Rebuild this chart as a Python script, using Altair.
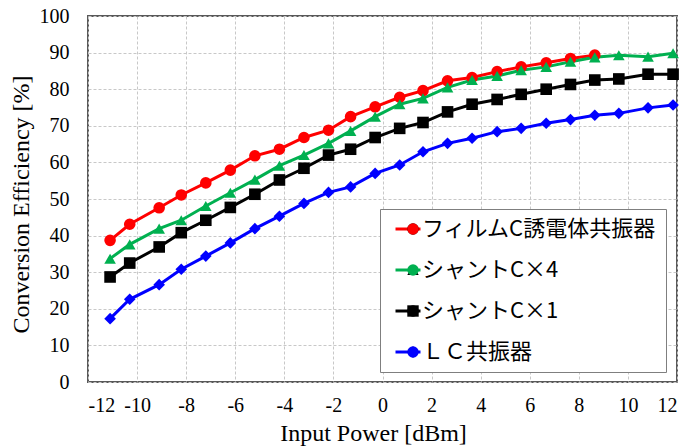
import altair as alt
import pandas as pd

# x positions (dBm)
x_all = [-11.1, -10.3, -9.1, -8.2, -7.2, -6.2, -5.2, -4.2, -3.2, -2.2, -1.3, -0.3,
         0.7, 1.65, 2.65, 3.65, 4.67, 5.65, 6.67, 7.66, 8.65, 9.63, 10.82, 11.84]

red_y = [38.7, 43.1, 47.6, 51.1, 54.4, 57.9, 61.8, 63.6, 66.8, 68.8, 72.5, 75.2,
         77.8, 79.6, 82.3, 83.2, 84.8, 86.1, 87.2, 88.4, 89.3]
green_y = [33.7, 37.6, 41.9, 44.2, 48.1, 51.7, 55.3, 59.1, 62.0, 65.2, 68.6, 72.5,
           75.9, 77.5, 80.5, 82.5, 83.6, 85.2, 86.1, 87.5, 88.7, 89.3, 88.9, 89.8]
black_y = [28.7, 32.5, 36.9, 40.8, 44.2, 47.7, 51.3, 55.2, 58.4, 62.0, 63.6, 66.8,
           69.3, 70.9, 73.8, 75.9, 77.2, 78.6, 80.0, 81.3, 82.5, 82.8, 84.1, 84.1]
blue_y = [17.3, 22.6, 26.6, 30.8, 34.4, 38.0, 41.9, 45.3, 48.8, 51.8, 53.3, 57.0,
          59.3, 62.9, 65.2, 66.6, 68.4, 69.3, 70.7, 71.7, 72.9, 73.4, 74.9, 75.7]

series_names = ["フィルムC誘電体共振器", "シャントC×4", "シャントC×1", "ＬＣ共振器"]
series_colors = ["#FF0000", "#00B050", "#000000", "#0000FF"]
series_shapes = ["circle", "triangle-up", "square", "diamond"]
series_widths = [3, 3, 2, 3]
series_values = [red_y, green_y, black_y, blue_y]

rows = []
for name, ys in zip(series_names, series_values):
    for i, v in enumerate(ys):
        rows.append({"x": x_all[i], "y": v, "series": name, "series_pt": name, "order": i})
df = pd.DataFrame(rows)

label_font = "Liberation Serif"
cjk_font = "Noto Sans CJK JP"

x_enc = alt.X("x:Q", scale=alt.Scale(domain=[-12, 12], nice=False),
              axis=alt.Axis(values=list(range(-12, 13, 2)), title="Input Power [dBm]",
                            labelExpr="'' + datum.value",
                            labelFont=label_font, labelFontSize=20, labelColor="#000000",
                            titleFont=label_font, titleFontSize=24,
                            titleX=285, titleY=58, titleBaseline="alphabetic",
                            labelPadding=13))
y_enc = alt.Y("y:Q", scale=alt.Scale(domain=[0, 100], nice=False),
              axis=alt.Axis(values=list(range(0, 101, 10)), title="Conversion Efficiency [%]",
                            labelExpr="'' + datum.value",
                            labelFont=label_font, labelFontSize=20, labelColor="#000000",
                            titleFont=label_font, titleFontSize=24,
                            titleX=-55, titleY=188, labelPadding=19))

leg_common = dict(orient="none", legendY=193, title=None,
                  labelFont=cjk_font, labelFontSize=22, rowPadding=19, clipHeight=22,
                  padding=9, symbolOffset=5, labelLimit=400)

lines = alt.Chart(df).mark_line().encode(
    x=x_enc, y=y_enc,
    order="order:Q",
    strokeWidth=alt.StrokeWidth("series:N", sort=series_names,
                                scale=alt.Scale(domain=series_names, range=series_widths),
                                legend=None),
    color=alt.Color("series:N", sort=series_names,
                    scale=alt.Scale(domain=series_names, range=series_colors),
                    legend=alt.Legend(legendX=292, symbolType="stroke",
                                      symbolSize=625, symbolStrokeWidth=3,
                                      labelColor="#000000", labelOffset=0,
                                      strokeColor="#7F7F7F", fillColor="#FFFFFF",
                                      **leg_common)),
)

pt_legend = alt.Legend(legendX=300, symbolSize=130, labelExpr="''",
                       labelOffset=0, symbolStrokeWidth=0, **leg_common)

points = alt.Chart(df).mark_point(filled=True, size=135, opacity=1, strokeWidth=0).encode(
    x=x_enc, y=y_enc,
    fill=alt.Fill("series_pt:N", sort=series_names,
                  scale=alt.Scale(range=series_colors),
                  legend=pt_legend),
    shape=alt.Shape("series_pt:N", sort=series_names,
                    scale=alt.Scale(range=series_shapes),
                    legend=pt_legend),
)

chart = alt.layer(lines, points).properties(
    width=589, height=366,
    padding={"left": 88, "top": 16, "right": 12, "bottom": 66},
    autosize=alt.AutoSizeParams(type="none"),
    background="white",
).configure_view(
    stroke="#595959", strokeWidth=2
).configure_axis(
    grid=True, gridColor="#C8C8C8", gridDash=[3, 2], gridWidth=1,
    ticks=False, domain=False,
    labelFont=label_font, labelFontSize=20, labelColor="#000000",
    titleFont=label_font, titleFontSize=24, titleFontWeight="normal", titleColor="#000000",
)

chart.save("out.html", embed_options={"renderer": "svg", "actions": False})
